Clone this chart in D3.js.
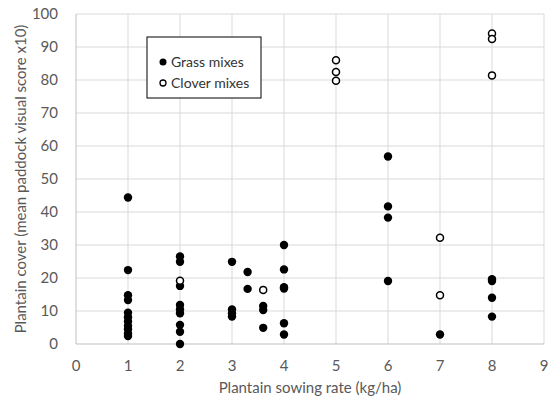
<!DOCTYPE html>
<html>
<head>
<meta charset="utf-8">
<script src="https://cdn.jsdelivr.net/npm/d3@7"></script>
<style>
  body { margin: 0; background: #fff; }
  svg { display: block; font-family: Lato, "Open Sans", sans-serif; }
</style>
</head>
<body>
<div id="chart"></div>
<script>
// Grass mixes (filled)
const grassX = [1,1,1,1,1,1,1,1,1,1,1,
                2,2,2,2,2,2,2,2,2,
                3,3,3,3, 3.3,3.3, 3.6,3.6,3.6,
                4,4,4,4,4,4,
                6,6,6,6, 7, 8,8,8,8]
const grassY = [44.4,22.4,14.8,13.3,9.5,8.1,6.8,5.5,4.5,3.2,2.4,
                26.5,24.9,17.6,11.8,10.5,9.3,5.8,3.7,0,
                24.9,10.5,9.3,8.3, 21.8,16.7, 11.5,10.3,4.9,
                30.0,22.6,17.2,16.8,6.3,2.9,
                56.8,41.7,38.3,19.1, 2.9, 19.6,19.1,14.0,8.3]

// Clover mixes (open)
const cloverX = [2, 3.6, 5,5,5, 7,7, 8,8,8]
const cloverY = [19.2, 16.4, 86.0,82.4,79.8, 32.2,14.8, 94.1,92.4,81.4]

const xTicks = d3.range(0, 10)
const yTicks = d3.range(0, 101, 10)

const width = 558, height = 403
const margin = {top: 14, right: 14, bottom: 59, left: 76}

const svg = d3.select('#chart').append('svg')
  .attr('width', width)
  .attr('height', height)

const x = d3.scaleLinear().domain([0, 9]).range([margin.left, width - margin.right])
const y = d3.scaleLinear().domain([0, 100]).range([height - margin.bottom, margin.top])

// gridlines
svg.append('g')
  .selectAll('line.h')
  .data(yTicks.filter(d => d > 0))
  .join('line')
  .attr('x1', x(0)).attr('x2', x(9))
  .attr('y1', d => y(d)).attr('y2', d => y(d))
  .attr('stroke', '#d9d9d9').attr('stroke-width', 1)

svg.append('g')
  .selectAll('line.v')
  .data(xTicks.filter(d => d > 0))
  .join('line')
  .attr('x1', d => x(d)).attr('x2', d => x(d))
  .attr('y1', y(0)).attr('y2', y(100))
  .attr('stroke', '#d9d9d9').attr('stroke-width', 1)

// axes lines
svg.append('line')
  .attr('x1', x(0)).attr('x2', x(9))
  .attr('y1', y(0)).attr('y2', y(0))
  .attr('stroke', '#bfbfbf')
svg.append('line')
  .attr('x1', x(0)).attr('x2', x(0))
  .attr('y1', y(0)).attr('y2', y(100))
  .attr('stroke', '#bfbfbf')

// tick labels
svg.append('g')
  .selectAll('text')
  .data(xTicks)
  .join('text')
  .attr('x', d => x(d))
  .attr('y', y(0) + 27)
  .attr('text-anchor', 'middle')
  .attr('font-size', 15)
  .attr('fill', '#595959')
  .text(d => d)

svg.append('g')
  .selectAll('text')
  .data(yTicks)
  .join('text')
  .attr('x', x(0) - 18)
  .attr('y', d => y(d) + 5)
  .attr('text-anchor', 'end')
  .attr('font-size', 15)
  .attr('fill', '#595959')
  .text(d => d)

// axis titles
svg.append('text')
  .attr('x', (x(0) + x(9)) / 2)
  .attr('y', height - 10)
  .attr('text-anchor', 'middle')
  .attr('font-size', 15)
  .attr('fill', '#595959')
  .text('Plantain sowing rate (kg/ha)')

svg.append('text')
  .attr('transform', `translate(26,${(y(0) + y(100)) / 2}) rotate(-90)`)
  .attr('text-anchor', 'middle')
  .attr('font-size', 15)
  .attr('fill', '#595959')
  .text('Plantain cover (mean paddock visual score x10)')

// points
svg.append('g')
  .selectAll('circle')
  .data(d3.zip(grassX, grassY))
  .join('circle')
  .attr('cx', d => x(d[0]))
  .attr('cy', d => y(d[1]))
  .attr('r', 4.2)
  .attr('fill', '#000')

svg.append('g')
  .selectAll('circle')
  .data(d3.zip(cloverX, cloverY))
  .join('circle')
  .attr('cx', d => x(d[0]))
  .attr('cy', d => y(d[1]))
  .attr('r', 3.5)
  .attr('fill', '#fff')
  .attr('stroke', '#000')
  .attr('stroke-width', 1.5)

// legend
const lg = svg.append('g').attr('transform', 'translate(147,37)')
lg.append('rect')
  .attr('width', 114).attr('height', 61)
  .attr('fill', '#fff').attr('stroke', '#000').attr('stroke-width', 1)
lg.append('circle').attr('cx', 16).attr('cy', 25).attr('r', 3.5).attr('fill', '#000')
lg.append('text').attr('x', 24).attr('y', 30).attr('font-size', 14).attr('fill', '#333').text('Grass mixes')
lg.append('circle').attr('cx', 16).attr('cy', 46).attr('r', 3).attr('fill', '#fff')
  .attr('stroke', '#000').attr('stroke-width', 1.3)
lg.append('text').attr('x', 24).attr('y', 51).attr('font-size', 14).attr('fill', '#333').text('Clover mixes')
</script>
</body>
</html>
